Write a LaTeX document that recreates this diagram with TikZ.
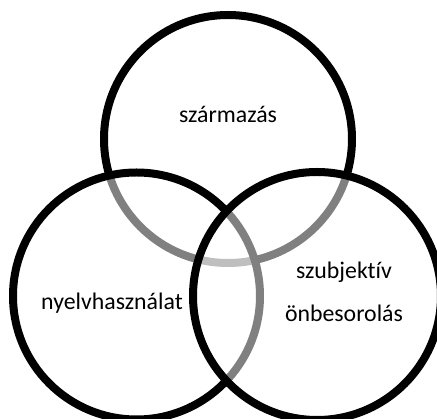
\documentclass[tikz,border=0pt]{standalone}
\usepackage{fontspec}
\setmainfont{Carlito}[Ligatures=CommonOff]
\begin{document}
\begin{tikzpicture}[x=1pt,y=-1pt,
  venn/.style={draw=black,line width=8pt,fill=white,fill opacity=0.5,draw opacity=1},
  lbl/.style={inner sep=0pt,text=black,font=\fontsize{23.8}{43}\selectfont,align=center}]
\useasboundingbox (0,0) rectangle (437,419);
\draw[venn] (228,139) circle[radius=124];
\draw[venn] (136.5,296) circle[radius=123.5];
\draw[venn] (317,296) circle[radius=124];
\node[lbl,anchor=base] (origin) at (228,123) {származás};
\node[lbl,anchor=base] (lang) at (112,310) {nyelvhasználat};
\node[lbl,anchor=base] (self) at (344,322) {szubjektív\\önbesorolás};
\end{tikzpicture}
\end{document}
